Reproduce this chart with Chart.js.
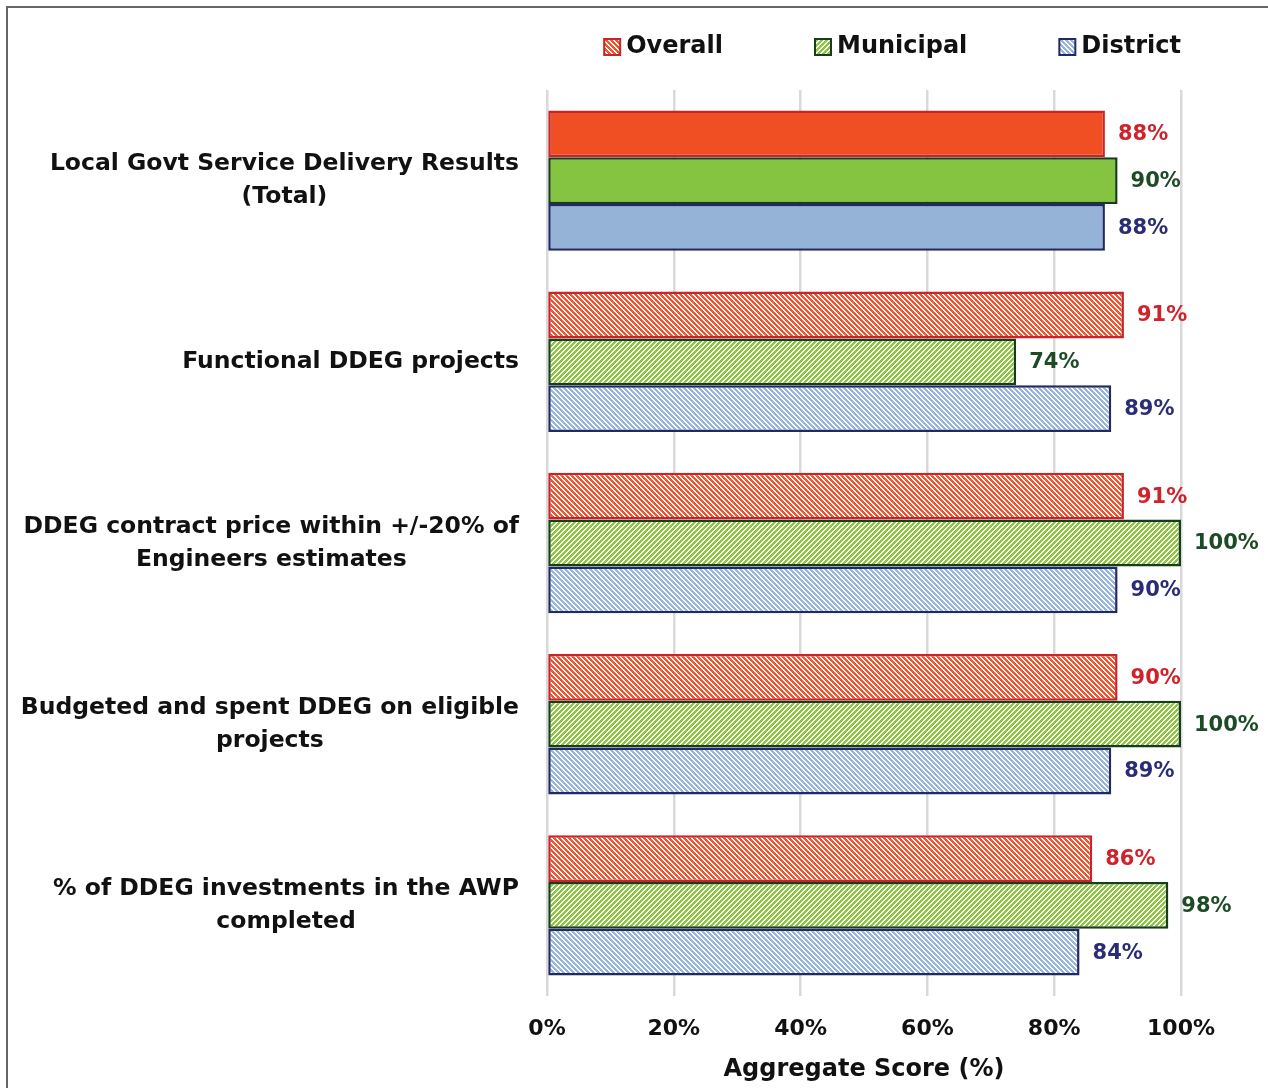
<!DOCTYPE html>
<html>
<head>
<meta charset="utf-8">
<script src="https://cdn.jsdelivr.net/npm/chart.js@4"></script>
<style>
  html, body { margin: 0; padding: 0; background: #fff; overflow: hidden; }
  #wrap { position: relative; width: 1268px; height: 1088px; }
  #frame { position: absolute; left: 6px; top: 6px; width: 1280px; height: 1100px; border: 2px solid #666; box-sizing: border-box; }
  canvas { position: absolute; left: 0; top: 0; }
</style>
</head>
<body>
<div id="wrap">
  <div id="frame"></div>
  <canvas id="chart" width="1268" height="1088"></canvas>
</div>
<script>
const categories = [
  ['Local Govt Service Delivery Results', '(Total)'],
  ['Functional DDEG projects'],
  ['DDEG contract price within +/-20% of', 'Engineers estimates'],
  ['Budgeted and spent DDEG on eligible', 'projects'],
  ['% of DDEG investments in the AWP', 'completed']
];
const overall = [88, 91, 91, 90, 86];
const municipal = [90, 74, 100, 100, 98];
const district = [88, 89, 90, 89, 84];
const xTicks = [0, 20, 40, 60, 80, 100];

const FONT = "'DejaVu Sans', sans-serif";

// diagonal hatch patterns like the Excel fills
function hatch(color, dir) {
  const n = 5;
  const c = document.createElement('canvas');
  c.width = n; c.height = n;
  const g = c.getContext('2d');
  g.fillStyle = '#fff';
  g.fillRect(0, 0, n, n);
  g.fillStyle = color;
  for (let y = 0; y < n; y++) {
    for (let x = 0; x < n; x++) {
      const k = dir === 'down' ? (x - y + 2 * n) % n : (x + y) % n;
      if (k < 3) g.fillRect(x, y, 1, 1);
    }
  }
  return document.getElementById('chart').getContext('2d').createPattern(c, 'repeat');
}

const series = [
  { label: 'Overall', data: overall, solid: '#F04E23', stripe: '#F4532B', dir: 'down', border: '#C8252B', text: '#D0222B' },
  { label: 'Municipal', data: municipal, solid: '#84C441', stripe: '#8CC63F', dir: 'up', border: '#173D1C', text: '#1D4B26' },
  { label: 'District', data: district, solid: '#95B3D7', stripe: '#98B5DD', dir: 'down', border: '#1F2A66', text: '#2A2C78' }
];
series.forEach(s => { s.pattern = hatch(s.stripe, s.dir); });

const datasets = series.map(s => ({
  label: s.label,
  data: s.data,
  backgroundColor: s.data.map((v, i) => i === 0 ? s.solid : s.pattern),
  borderColor: s.border,
  borderWidth: 2.5,
  borderSkipped: false,
  barPercentage: 1,
  categoryPercentage: 0.775
}));

const customLabels = {
  id: 'customLabels',
  afterDatasetsDraw(chart) {
    const ctx = chart.ctx;
    const area = chart.chartArea;
    ctx.save();

    // value labels at bar ends
    ctx.font = 'bold 21px ' + FONT;
    ctx.textAlign = 'left';
    ctx.textBaseline = 'middle';
    series.forEach((s, di) => {
      chart.getDatasetMeta(di).data.forEach((bar, i) => {
        ctx.fillStyle = s.text;
        ctx.fillText(s.data[i] + '%', bar.x + 13, bar.y + 1);
      });
    });

    // category labels: block right aligned, lines centred
    const yScale = chart.scales.y;
    ctx.font = 'bold 23.5px ' + FONT;
    ctx.fillStyle = '#111';
    ctx.textAlign = 'center';
    categories.forEach((lines, i) => {
      const yc = yScale.getPixelForTick(i);
      const w = Math.max(...lines.map(l => ctx.measureText(l).width));
      const xc = area.left - 28 - w / 2;
      lines.forEach((l, j) => {
        ctx.fillText(l, xc, yc + (j - (lines.length - 1) / 2) * 33);
      });
    });

    // legend, right aligned to the plot
    ctx.font = 'bold 24px ' + FONT;
    ctx.textAlign = 'left';
    let x = area.right;
    const items = series.slice().reverse();
    items.forEach(s => {
      const tw = ctx.measureText(s.label).width;
      const tx = x - tw;
      const bx = tx - 22;
      const by = 39;
      ctx.fillStyle = s.pattern;
      ctx.fillRect(bx, by, 16, 16);
      ctx.lineWidth = 2;
      ctx.strokeStyle = s.border;
      ctx.strokeRect(bx, by, 16, 16);
      ctx.fillStyle = '#111';
      ctx.fillText(s.label, tx, 47);
      x = bx - 92;
    });
    ctx.restore();
  }
};

new Chart(document.getElementById('chart'), {
  type: 'bar',
  data: { labels: categories.map(c => c.join(' ')), datasets: datasets },
  options: {
    indexAxis: 'y',
    responsive: false,
    animation: false,
    layout: { padding: { top: 90, right: 87, bottom: 0, left: 0 } },
    plugins: {
      legend: { display: false },
      tooltip: { enabled: false }
    },
    scales: {
      x: {
        min: 0,
        max: 100,
        afterBuildTicks: scale => { scale.ticks = xTicks.map(v => ({ value: v })); },
        afterFit: scale => { scale.height = 92; },
        grid: { color: '#D9D9D9', lineWidth: 2.5, drawTicks: false },
        border: { display: false },
        ticks: {
          padding: 20,
          color: '#111',
          font: { family: FONT, size: 22, weight: 'bold' },
          callback: v => v + '%'
        },
        title: {
          display: true,
          text: 'Aggregate Score (%)',
          color: '#111',
          font: { family: FONT, size: 24, weight: 'bold' },
          padding: { top: 0, bottom: 4 }
        }
      },
      y: {
        afterFit: scale => { scale.width = 547; },
        grid: { display: false },
        border: { display: false },
        ticks: { display: false }
      }
    }
  },
  plugins: [customLabels]
});
</script>
</body>
</html>
